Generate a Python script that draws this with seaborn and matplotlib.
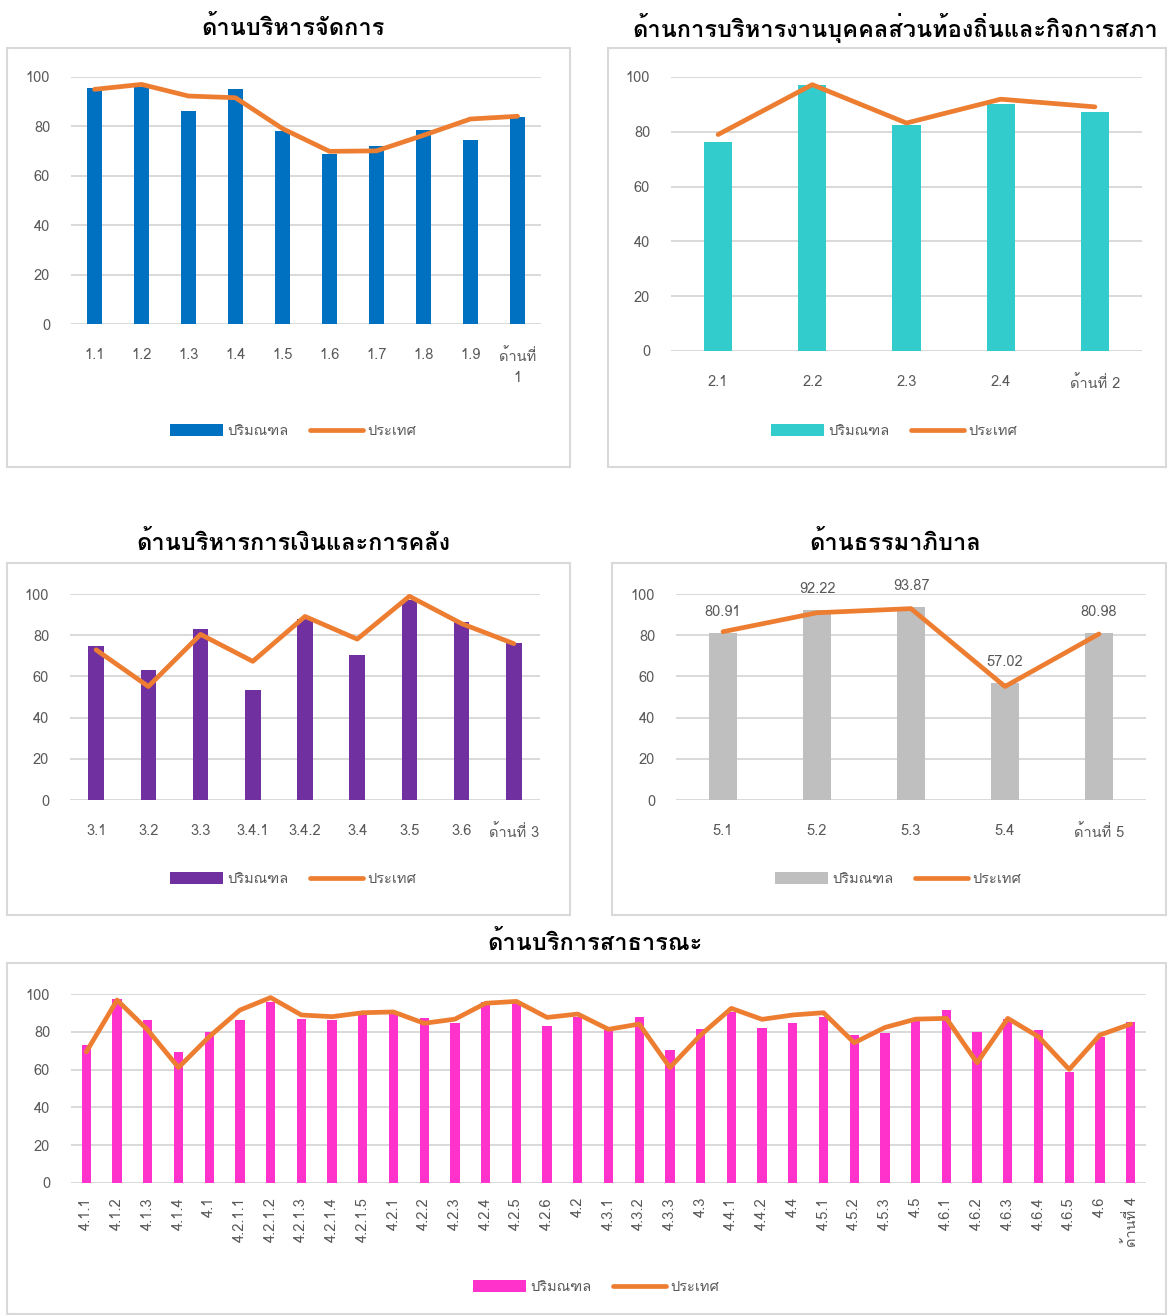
import matplotlib
matplotlib.use('Agg')
import matplotlib.pyplot as plt
from matplotlib import font_manager
from matplotlib.ft2font import FT2Font
from matplotlib.patches import Rectangle
import seaborn as sns
import pandas as pd

# ---- data ----
labels_1 = ['1.1', '1.2', '1.3', '1.4', '1.5', '1.6', '1.7', '1.8', '1.9', 'ด้านที่\n1']
metro_1 = [95.7, 96.0, 86.3, 95.3, 78.2, 69.0, 72.1, 78.4, 74.5, 83.8]
country_1 = [95.0, 97.0, 92.3, 91.6, 79.1, 69.9, 70.1, 76.4, 83.0, 84.1]

labels_2 = ['2.1', '2.2', '2.3', '2.4', 'ด้านที่ 2']
metro_2 = [76.4, 97.0, 82.4, 90.3, 87.4]
country_2 = [79.0, 97.2, 83.2, 91.9, 89.1]

labels_3 = ['3.1', '3.2', '3.3', '3.4.1', '3.4.2', '3.4', '3.5', '3.6', 'ด้านที่ 3']
metro_3 = [74.6, 63.2, 82.8, 53.6, 88.0, 70.2, 97.0, 86.5, 76.2]
country_3 = [72.9, 55.1, 80.4, 67.3, 89.1, 78.1, 98.9, 85.6, 75.9]

labels_5 = ['5.1', '5.2', '5.3', '5.4', 'ด้านที่ 5']
metro_5 = [80.91, 92.22, 93.87, 57.02, 80.98]
country_5 = [81.7, 90.9, 92.9, 55.1, 80.6]

labels_4 = ['4.1.1', '4.1.2', '4.1.3', '4.1.4', '4.1',
            '4.2.1.1', '4.2.1.2', '4.2.1.3', '4.2.1.4', '4.2.1.5', '4.2.1',
            '4.2.2', '4.2.3', '4.2.4', '4.2.5', '4.2.6', '4.2',
            '4.3.1', '4.3.2', '4.3.3', '4.3', '4.4.1', '4.4.2', '4.4',
            '4.5.1', '4.5.2', '4.5.3', '4.5',
            '4.6.1', '4.6.2', '4.6.3', '4.6.4', '4.6.5', '4.6', 'ด้านที่ 4']
metro_4 = [72.8, 97.3, 86.2, 69.3, 80.0,
           86.2, 96.0, 86.6, 86.2, 89.0, 89.8,
           87.3, 84.8, 95.9, 95.4, 83.0, 88.0,
           80.9, 87.8, 70.3, 81.3, 90.6, 81.8, 84.8,
           88.0, 78.3, 79.5, 86.2,
           91.7, 79.9, 86.6, 80.9, 58.8, 77.4, 85.2]
country_4 = [69.4, 96.8, 80.9, 61.1, 77.4,
             91.5, 98.1, 88.9, 88.0, 90.1, 90.5,
             84.5, 86.7, 95.1, 96.1, 87.6, 89.4,
             81.3, 84.1, 61.1, 78.3, 92.4, 86.6, 88.9,
             90.1, 74.2, 82.3, 86.7,
             87.1, 63.6, 87.1, 77.4, 60.1, 78.3, 84.1]

titles = ['ด้านบริหารจัดการ',
          'ด้านการบริหารงานบุคคลส่วนท้องถิ่นและกิจการสภา',
          'ด้านบริหารการเงินและการคลัง',
          'ด้านธรรมาภิบาล',
          'ด้านบริการสาธารณะ']
series_names = ['ปริมณฑล', 'ประเทศ']

ORANGE = '#ED7D31'
GRID = '#D9D9D9'
TXT = '#595959'


def thai_family():
    hints = ('thai', 'sarabun', 'loma', 'garuda', 'kinnari', 'norasi', 'waree',
             'tlwg', 'umpush', 'sawasdee', 'purisa', 'laksaman')
    fonts = sorted(font_manager.fontManager.ttflist,
                   key=lambda f: not any(h in f.name.lower() for h in hints))
    for f in fonts:
        try:
            if 0x0E14 in FT2Font(f.fname).get_charmap():
                return f.name
        except Exception:
            pass
    return None


sns.set_style('white')
thai = thai_family()
plt.rcParams['font.family'] = [thai, 'DejaVu Sans'] if thai else ['DejaVu Sans']

W, H = 1167, 1315
fig = plt.figure(figsize=(W / 100, H / 100), dpi=100)


def px_axes(x0, y0, x1, y1):
    return fig.add_axes([x0 / W, 1 - y1 / H, (x1 - x0) / W, (y1 - y0) / H])


def box(x0, y0, x1, y1):
    fig.patches.append(Rectangle((x0 / W, 1 - y1 / H), (x1 - x0) / W, (y1 - y0) / H,
                                 transform=fig.transFigure, fill=False,
                                 edgecolor='#D9D9D9', linewidth=1.5))


def panel(rect, labels, metro, country, color, title, title_xy, legend_xy,
          rotate=False, values=False):
    ax = px_axes(*rect)
    df = pd.DataFrame({'label': labels, 'metro': metro, 'country': country})
    sns.barplot(data=df, x='label', y='metro', color=color, saturation=1,
                width=0.3, linewidth=0, label=series_names[0], ax=ax)
    sns.lineplot(data=df, x='label', y='country', color=ORANGE, linewidth=3.4,
                 sort=False, label=series_names[1], ax=ax)
    if values:
        ax.bar_label(ax.containers[0], fmt='%.2f', padding=10, color=TXT, fontsize=10.5)
    ax.set_ylim(0, 100)
    ax.set_xlim(-0.5, len(labels) - 0.5)
    ax.set_yticks(range(0, 101, 20))
    ax.yaxis.grid(True, color=GRID, linewidth=1.4)
    ax.set_axisbelow(True)
    for s in ax.spines.values():
        s.set_visible(False)
    ax.set_xlabel('')
    ax.set_ylabel('')
    ax.tick_params(axis='y', length=0, pad=15, labelsize=10.5, labelcolor=TXT)
    if rotate:
        ax.tick_params(axis='x', length=0, pad=10, labelsize=10.5, labelcolor=TXT)
        for t in ax.get_xticklabels():
            t.set_rotation(90)
            t.set_va('top')
            t.set_ha('center')
    else:
        ax.tick_params(axis='x', length=0, pad=17, labelsize=10.5, labelcolor=TXT)
        for t in ax.get_xticklabels():
            t.set_linespacing(1.7)
    handles, lbls = ax.get_legend_handles_labels()
    order = [lbls.index(n) for n in series_names]
    if ax.get_legend() is not None:
        ax.get_legend().remove()
    fig.legend([handles[i] for i in order], [lbls[i] for i in order], loc='center',
               bbox_to_anchor=(legend_xy[0] / W, 1 - legend_xy[1] / H),
               ncol=2, frameon=False, fontsize=10.5, handlelength=3.6,
               handleheight=0.8, columnspacing=1.5, handletextpad=0.3,
               labelcolor=TXT)
    fig.text(title_xy[0] / W, 1 - title_xy[1] / H, title, ha='center', va='center',
             fontsize=17, fontweight='bold', color='black')
    return ax


# panel frames
box(7, 48, 570, 467)
box(608, 48, 1166, 467)
box(7, 563, 570, 915)
box(612, 563, 1166, 915)
box(7, 963, 1166, 1314)

panel((71, 77, 541, 324), labels_1, metro_1, country_1, '#0070C0',
      titles[0], (293, 28), (293, 431))
panel((671, 77, 1142, 351), labels_2, metro_2, country_2, '#33CCCC',
      titles[1], (895, 28), (894, 431))
panel((70, 594, 540, 800), labels_3, metro_3, country_3, '#7030A0',
      titles[2], (293, 543), (293, 879))
panel((676, 594, 1146, 800), labels_5, metro_5, country_5, '#BFBFBF',
      titles[3], (895, 543), (898, 879), values=True)
panel((71, 994, 1146, 1183), labels_4, metro_4, country_4, '#FF33CC',
      titles[4], (595, 943), (596, 1287), rotate=True)

fig.savefig('out.png', dpi=100)
